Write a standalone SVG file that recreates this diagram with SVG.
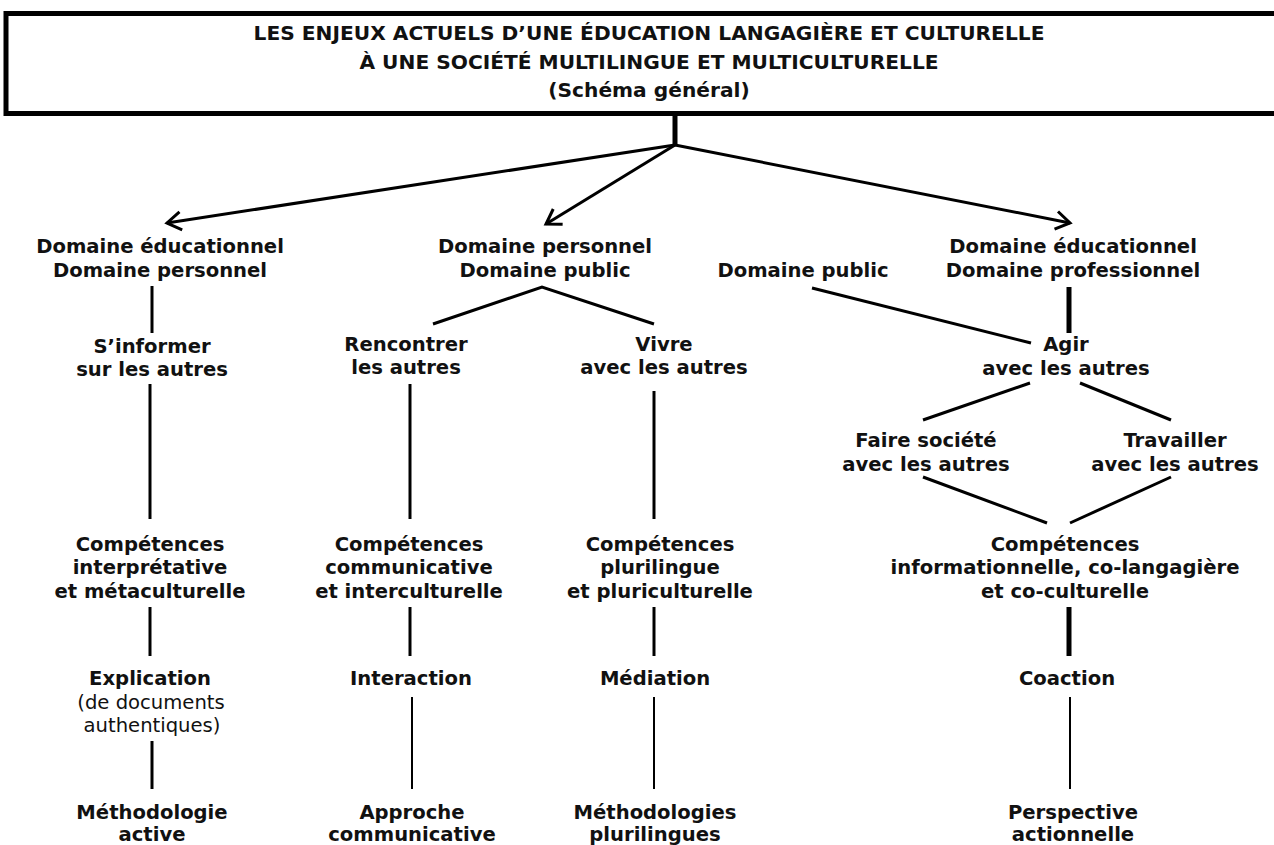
<svg xmlns="http://www.w3.org/2000/svg" width="1274" height="845" viewBox="0 0 1274 845">
<style>
text { font-family: "DejaVu Sans", Verdana, sans-serif; font-weight: bold; font-size: 19.6px; fill: #111; text-anchor: middle; }
text.reg { font-weight: normal; }
text.title { font-size: 20.2px; }
.ln { stroke: #000; stroke-width: 3; fill: none; stroke-linecap: butt; }
.thick { stroke-width: 5; }
.thin { stroke-width: 2; }
</style>
<defs>
<marker id="arr" markerUnits="userSpaceOnUse" markerWidth="24" markerHeight="24" refX="16" refY="12" orient="auto" overflow="visible">
<path d="M2 3 L16 12 L2 21" fill="none" stroke="#000" stroke-width="3" stroke-linejoin="miter"/>
</marker>
</defs>
<rect width="1274" height="845" fill="#fff"/>

<g id="title">
<rect x="6" y="13.5" width="1290" height="100" fill="#fff" stroke="#000" stroke-width="5"/>
<text class="title" x="649" y="40">LES ENJEUX ACTUELS D’UNE ÉDUCATION LANGAGIÈRE ET CULTURELLE</text>
<text class="title" x="649" y="69">À UNE SOCIÉTÉ MULTILINGUE ET MULTICULTURELLE</text>
<text class="title" x="649" y="97">(Schéma général)</text>
</g>

<g id="connectors">
<path class="ln thick" d="M675 114 V146"/>
<path class="ln" d="M675 145 L167 223" marker-end="url(#arr)"/>
<path class="ln" d="M675 145 L546 224" marker-end="url(#arr)"/>
<path class="ln" d="M675 145 L1070 223" marker-end="url(#arr)"/>
<path class="ln" d="M152 286 V333"/>
<path class="ln" d="M150 384 V519"/>
<path class="ln" d="M150 607 V656"/>
<path class="ln" d="M152 741 V789"/>
<path class="ln" d="M433 324 L542 287 L654 324"/>
<path class="ln" d="M410 384 V519"/>
<path class="ln" d="M410 607 V656"/>
<path class="ln thin" d="M412 697 V789"/>
<path class="ln" d="M654 391 V519"/>
<path class="ln" d="M654 607 V656"/>
<path class="ln thin" d="M654 697 V789"/>
<path class="ln" d="M812 288 L1031 343"/>
<path class="ln thick" d="M1069 287 V333"/>
<path class="ln" d="M1030 383 L923 420"/>
<path class="ln" d="M1080 383 L1171 420"/>
<path class="ln" d="M923 477 L1047 523"/>
<path class="ln" d="M1171 477 L1070 523"/>
<path class="ln thick" d="M1069 607 V656"/>
<path class="ln thin" d="M1070 697 V789"/>
</g>

<g id="dom-edu-perso"><text x="160" y="253">Domaine éducationnel</text><text x="160" y="277">Domaine personnel</text></g>
<g id="dom-perso-public"><text x="545" y="253">Domaine personnel</text><text x="545" y="277">Domaine public</text></g>
<g id="dom-public"><text x="803" y="277">Domaine public</text></g>
<g id="dom-edu-pro"><text x="1073" y="253">Domaine éducationnel</text><text x="1073" y="277">Domaine professionnel</text></g>

<g id="s-informer"><text x="152" y="353">S’informer</text><text x="152" y="376">sur les autres</text></g>
<g id="rencontrer"><text x="406" y="351">Rencontrer</text><text x="406" y="374">les autres</text></g>
<g id="vivre"><text x="664" y="351">Vivre</text><text x="664" y="374">avec les autres</text></g>
<g id="agir"><text x="1066" y="351">Agir</text><text x="1066" y="375">avec les autres</text></g>
<g id="faire-societe"><text x="926" y="447">Faire société</text><text x="926" y="471">avec les autres</text></g>
<g id="travailler"><text x="1175" y="447">Travailler</text><text x="1175" y="471">avec les autres</text></g>

<g id="comp-interp"><text x="150" y="551">Compétences</text><text x="150" y="574">interprétative</text><text x="150" y="598">et métaculturelle</text></g>
<g id="comp-comm"><text x="409" y="551">Compétences</text><text x="409" y="574">communicative</text><text x="409" y="598">et interculturelle</text></g>
<g id="comp-pluri"><text x="660" y="551">Compétences</text><text x="660" y="574">plurilingue</text><text x="660" y="598">et pluriculturelle</text></g>
<g id="comp-info"><text x="1065" y="551">Compétences</text><text x="1065" y="574">informationnelle, co-langagière</text><text x="1065" y="598">et co-culturelle</text></g>

<g id="explication"><text x="150" y="685">Explication</text><text class="reg" x="151" y="709">(de documents</text><text class="reg" x="152" y="732">authentiques)</text></g>
<g id="interaction"><text x="411" y="685">Interaction</text></g>
<g id="mediation"><text x="655" y="685">Médiation</text></g>
<g id="coaction"><text x="1067" y="685">Coaction</text></g>

<g id="meth-active"><text x="152" y="819">Méthodologie</text><text x="152" y="841">active</text></g>
<g id="approche-comm"><text x="412" y="819">Approche</text><text x="412" y="841">communicative</text></g>
<g id="meth-pluri"><text x="655" y="819">Méthodologies</text><text x="655" y="841">plurilingues</text></g>
<g id="perspective"><text x="1073" y="819">Perspective</text><text x="1073" y="841">actionnelle</text></g>
</svg>
